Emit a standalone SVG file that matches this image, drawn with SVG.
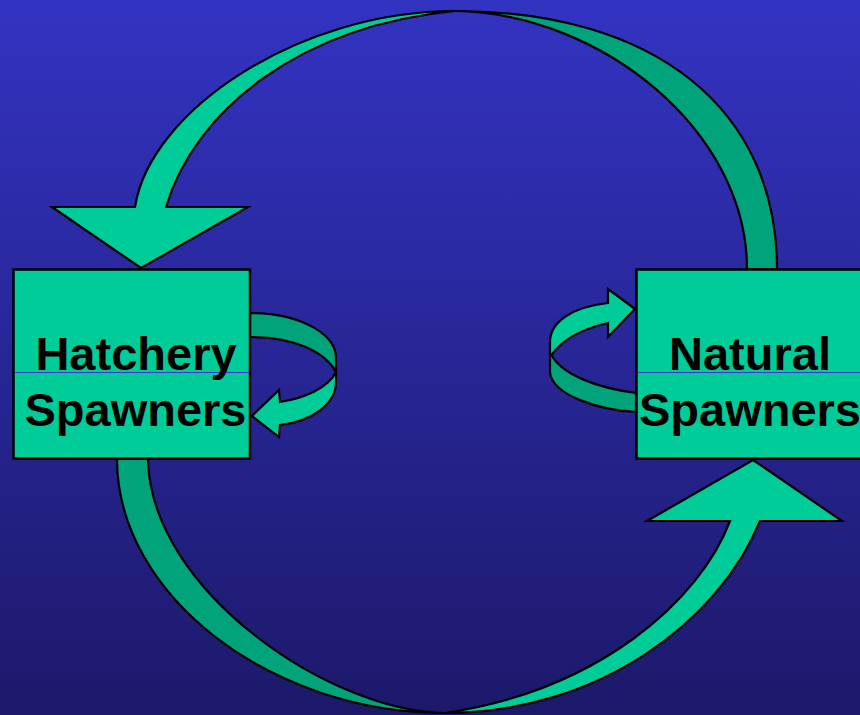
<svg xmlns="http://www.w3.org/2000/svg" width="860" height="715" viewBox="0 0 860 715">
  <defs>
    <linearGradient id="bg" x1="0" y1="0" x2="0" y2="1">
      <stop offset="0" stop-color="#3333C2"/>
      <stop offset="1" stop-color="#1C196A"/>
    </linearGradient>
    <style>
      .light { fill: #00CC99; stroke: #000; stroke-width: 2.2; stroke-linejoin: miter; }
      .dark { fill: #00A37A; stroke: #000; stroke-width: 2.2; stroke-linejoin: miter; }
      .box { fill: #00CC99; stroke: #000; stroke-width: 2.5; }
      .rule { stroke: #4433CC; stroke-width: 1; }
      .lbl { font-family: "Liberation Sans", Arial, sans-serif; font-weight: bold; font-size: 47px; fill: #000; text-anchor: middle; }
    </style>
  </defs>
  <rect x="0" y="0" width="860" height="715" fill="url(#bg)"/>

  <g id="connectors">
    <!-- top arc: natural -> hatchery -->
    <path class="dark" d="M 455,11 C 655,11 777,109 777,269 L 747,269 C 747,130 600,13 455,11 Z"/>
    <path class="light" d="M 455,11 C 300,11 150,110 135,207 L 52,207 L 141,268 L 248,207 L 166,207 C 195,110 300,26 455,11 Z"/>
    <!-- bottom arc: hatchery -> natural -->
    <path class="dark" d="M 117,459 L 148,459 C 150,590 330,712 445,713 C 270,713 117,595 117,459 Z"/>
    <path class="light" d="M 445,713 C 600,713 720,620 760,521 L 842,521 L 753,460 L 647,521 L 730,521 C 700,600 600,690 445,713 Z"/>
    <!-- hatchery self loop -->
    <path class="dark" d="M 250,313 C 302,313 336,335 336,358 L 336,372 C 325,352 295,337 250,337 Z"/>
    <path class="light" d="M 336,372 L 336,382 C 336,405 310,422 280,425 L 279,437 L 252,416 L 279,390 L 280,402 C 305,398 328,388 336,372 Z"/>
    <!-- natural self loop -->
    <path class="dark" d="M 550,354 L 550,372 C 552,395 598,410 636,412 L 636,393 C 598,388 562,375 551.5,355 Z"/>
    <path class="light" d="M 608,303 C 572,307 550,322 550,342 L 550,354 L 551.5,355 C 562,340 582,329 608,323 L 608,337 L 635,309 L 608,289 Z"/>
  </g>

  <g id="hatchery">
    <rect class="box" x="13.5" y="269.5" width="236.5" height="189"/>
    <line class="rule" x1="15" y1="372.5" x2="249" y2="372.5"/>
    <text class="lbl" x="136" y="370">Hatchery</text>
    <text class="lbl" x="135.5" y="426">Spawners</text>
  </g>

  <g id="natural">
    <rect class="box" x="636.5" y="269.5" width="240" height="189"/>
    <line class="rule" x1="638" y1="372.5" x2="860" y2="372.5"/>
    <text class="lbl" x="750" y="369.5">Natural</text>
    <text class="lbl" x="750" y="426">Spawners</text>
  </g>
</svg>
